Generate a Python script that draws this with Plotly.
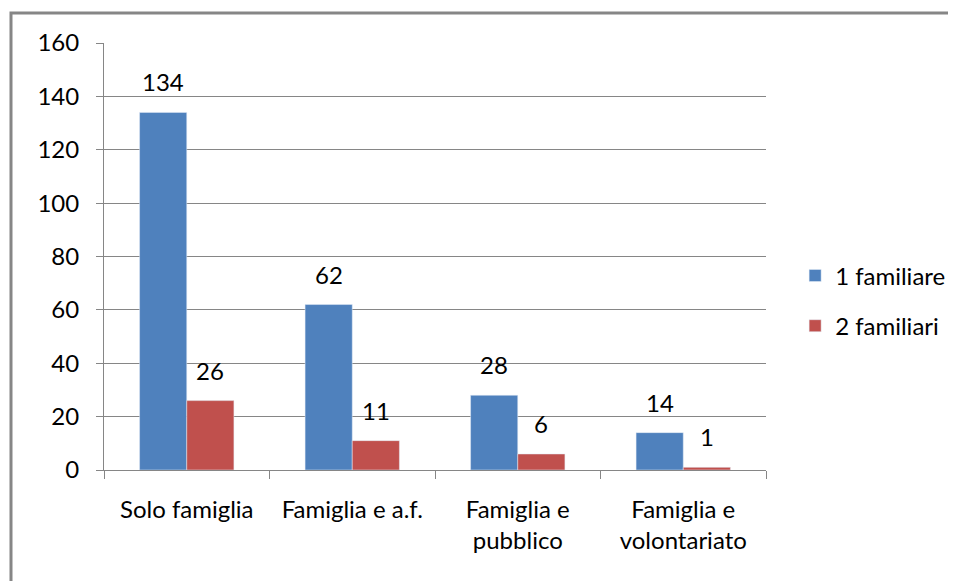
import plotly.graph_objects as go

categorie = ["Solo famiglia", "Famiglia e a.f.", "Famiglia e<br>pubblico", "Famiglia e<br>volontariato"]
un_familiare = [134, 62, 28, 14]
due_familiari = [26, 11, 6, 1]
y_ticks = [0, 20, 40, 60, 80, 100, 120, 140, 160]

font_fam = "Lato, Open Sans, sans-serif"
grigio = "#868686"

fig = go.Figure()
fig.add_bar(x=categorie, y=un_familiare, name="1 familiare", marker_color="#4F81BD",
            legendgroup="a")
fig.add_bar(x=categorie, y=due_familiari, name="2 familiari", marker_color="#C0504D",
            legendgroup="b")

# etichette dei valori sopra le barre
for serie, shift in [(un_familiare, -23.5), (due_familiari, 23.5)]:
    for cat, val in zip(categorie, serie):
        fig.add_annotation(x=cat, y=val, text=str(val), showarrow=False,
                           xshift=shift, yshift=14, yanchor="bottom",
                           font=dict(size=24, color="black", family=font_fam))

fig.update_layout(
    width=948, height=573,
    barmode="group", bargap=0.43, bargroupgap=0,
    plot_bgcolor="white", paper_bgcolor="white",
    margin=dict(l=96, r=190, t=35, b=111, autoexpand=False),
    font=dict(family=font_fam, size=24, color="black"),
    showlegend=True,
    legend=dict(x=1.044, y=0.396, yanchor="middle", font=dict(size=24),
                bgcolor="rgba(0,0,0,0)",
                traceorder="grouped", tracegroupgap=16, itemwidth=30),
    xaxis=dict(showline=True, linecolor=grigio, linewidth=1,
               ticks="outside", tickson="boundaries", ticklen=8, tickcolor=grigio,
               ticklabelstandoff=18, tickfont=dict(size=24)),
    yaxis=dict(range=[0, 160], tickvals=y_ticks, showline=True, linecolor=grigio,
               linewidth=1, showgrid=True, gridcolor=grigio, gridwidth=1,
               ticks="outside", ticklen=7, tickcolor=grigio, zeroline=False,
               ticklabelstandoff=12, tickfont=dict(size=24)),
    shapes=[dict(type="rect", xref="paper", yref="paper",
                 x0=-0.1405, x1=1.278, y0=-0.3, y1=1.0703,
                 line=dict(color=grigio, width=3))],
)

fig.write_html("out.html")
